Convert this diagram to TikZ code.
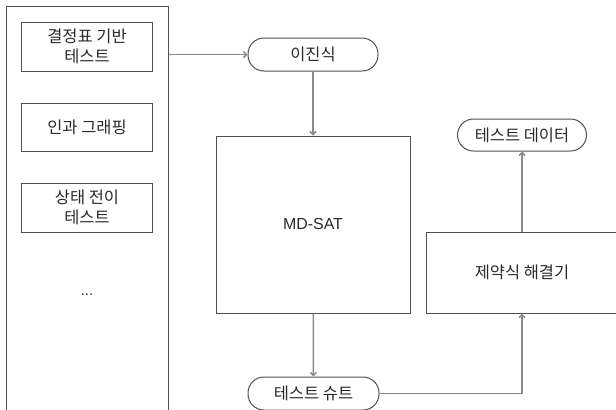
\documentclass[tikz,border=0pt]{standalone}
\usepackage{fontspec}
\setmainfont{Liberation Sans}
\newfontfamily\kr{Noto Sans CJK KR}
\usetikzlibrary{arrows.meta}
\definecolor{boxgray}{HTML}{505050}
\definecolor{linegray}{HTML}{8A8A8A}
\definecolor{txt}{HTML}{2A2A2A}
\tikzset{
  base/.style={draw=boxgray, line width=1bp, fill=white, inner sep=0pt, text=txt, align=center},
  krbox/.style={base, font=\kr\fontsize{16.5}{20}\selectfont},
  term/.style={krbox, rounded corners=16bp},
  conn/.style={draw=linegray, line width=1.5bp, -{Straight Barb[length=3bp,width=6bp]}},
}
\begin{document}
\begin{tikzpicture}[x=1bp,y=-1bp]
\useasboundingbox (0,0) rectangle (616,409);
\fill[white] (0,0) rectangle (616,409);
\node[base, minimum width=161bp, minimum height=424bp] (panel) at (87.5,218) {};
\node[krbox, minimum width=130bp, minimum height=49bp] (dt) at (87,46.5) {결정표 기반\\테스트};
\node[krbox, minimum width=130bp, minimum height=48bp] (ce) at (87,127) {인과 그래핑};
\node[krbox, minimum width=130bp, minimum height=49bp] (st) at (87,207.5) {상태 전이\\테스트};
\node[text=txt, font=\fontsize{15}{18}\selectfont] (dots) at (87,295) {...};
\node[term, minimum width=130bp, minimum height=33bp] (bin) at (313,54.5) {이진식};
\node[base, font=\fontsize{16}{18}\selectfont, minimum width=194bp, minimum height=177bp] (sat) at (313,224.5) {MD-SAT};
\node[term, minimum width=131bp, minimum height=33bp] (suite) at (313.5,393.5) {테스트 슈트};
\node[krbox, minimum width=192bp, minimum height=81bp] (solver) at (522,272.5) {제약식 해결기};
\node[term, minimum width=129bp, minimum height=32bp] (data) at (522,135) {테스트 데이터};
\draw[conn] (bin.west -| panel.east) -- (bin.west);
\draw[conn] (bin) -- (sat);
\draw[conn] (sat) -- (suite);
\draw[conn] (suite.east) -| (solver.south);
\draw[conn] (solver) -- (data);
\end{tikzpicture}
\end{document}
